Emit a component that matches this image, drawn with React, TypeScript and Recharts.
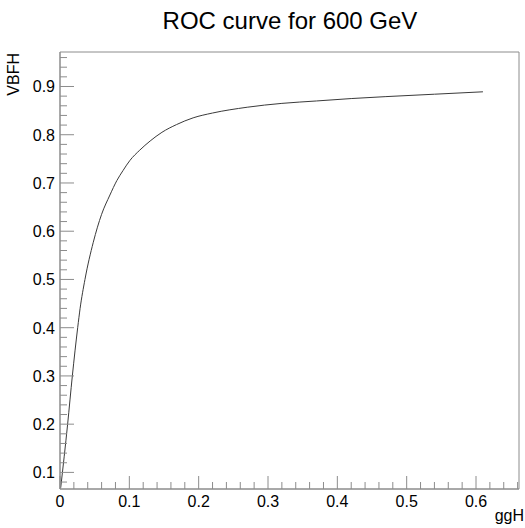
import { LineChart, Line, XAxis, YAxis, ReferenceArea } from "recharts";

// ROC curve points
const ggH = [0.001, 0.011, 0.0178, 0.0255, 0.029, 0.036, 0.048, 0.06, 0.072, 0.082, 0.091, 0.101, 0.115, 0.13, 0.147, 0.168, 0.192, 0.22, 0.27, 0.32, 0.37, 0.42, 0.47, 0.54, 0.61];
const vbfh = [0.068, 0.2, 0.3, 0.4, 0.44, 0.5, 0.577, 0.635, 0.675, 0.705, 0.726, 0.747, 0.768, 0.787, 0.805, 0.821, 0.835, 0.845, 0.857, 0.865, 0.87, 0.875, 0.879, 0.884, 0.889];

const xTicks = [0, 0.02, 0.04, 0.06, 0.08, 0.1, 0.12, 0.14, 0.16, 0.18, 0.2, 0.22, 0.24, 0.26, 0.28, 0.3, 0.32, 0.34, 0.36, 0.38, 0.4, 0.42, 0.44, 0.46, 0.48, 0.5, 0.52, 0.54, 0.56, 0.58, 0.6, 0.62, 0.64, 0.66];
const yTicks = [0.08, 0.1, 0.12, 0.14, 0.16, 0.18, 0.2, 0.22, 0.24, 0.26, 0.28, 0.3, 0.32, 0.34, 0.36, 0.38, 0.4, 0.42, 0.44, 0.46, 0.48, 0.5, 0.52, 0.54, 0.56, 0.58, 0.6, 0.62, 0.64, 0.66, 0.68, 0.7, 0.72, 0.74, 0.76, 0.78, 0.8, 0.82, 0.84, 0.86, 0.88, 0.9, 0.92, 0.94, 0.96];

const xDomain = [0, 0.662];
const yDomain = [0.0656, 0.9715];

const data = ggH.map((x, i) => ({ x, y: vbfh[i] }));

const FONT = "'Liberation Sans', Arial, Helvetica, sans-serif";
const AXIS = "#8c8c8c";

const isMajor = (v: number) => Math.abs(v * 10 - Math.round(v * 10)) < 1e-6;
const fmt = (v: number) => (v === 0 ? "0" : String(Math.round(v * 10) / 10));

const XTick = (props: any) => {
  const { x, y, payload } = props;
  const major = isMajor(payload.value);
  return (
    <g>
      <line x1={x} x2={x} y1={y} y2={y - (major ? 13 : 7)} stroke={AXIS} />
      {major && (
        <text x={x} y={y + 18} textAnchor="middle" fontSize={16} fontFamily={FONT} fill="#000">
          {fmt(payload.value)}
        </text>
      )}
    </g>
  );
};

const YTick = (props: any) => {
  const { x, y, payload } = props;
  const major = isMajor(payload.value);
  return (
    <g>
      <line x1={x} x2={x + (major ? 14 : 7)} y1={y} y2={y} stroke={AXIS} />
      {major && (
        <text x={x - 5} y={y + 6} textAnchor="end" fontSize={16} fontFamily={FONT} fill="#000">
          {fmt(payload.value)}
        </text>
      )}
    </g>
  );
};

export default function App() {
  return (
    <div style={{ position: "absolute", left: 0, top: 0, width: 525, height: 528, background: "#fff" }}>
      <LineChart
        width={525}
        height={528}
        data={data}
        margin={{ top: 52, right: 6, left: 0, bottom: 0 }}
      >
        <XAxis
          type="number"
          dataKey="x"
          domain={xDomain}
          allowDataOverflow
          ticks={xTicks}
          interval={0}
          tick={<XTick />}
          tickLine={false}
          tickSize={0}
          tickMargin={0}
          height={39}
          axisLine={{ stroke: AXIS }}
        />
        <YAxis
          type="number"
          dataKey="y"
          domain={yDomain}
          allowDataOverflow
          ticks={yTicks}
          interval={0}
          tick={<YTick />}
          tickLine={false}
          tickSize={0}
          tickMargin={0}
          width={60}
          axisLine={{ stroke: AXIS }}
        />
        <ReferenceArea x1={xDomain[0]} x2={xDomain[1]} y1={yDomain[0]} y2={yDomain[1]} fill="none" stroke={AXIS} />
        <Line
          type="monotone"
          dataKey="y"
          stroke="#3a3a3a"
          strokeWidth={1}
          dot={false}
          isAnimationActive={false}
        />
      </LineChart>
      <svg width={525} height={528} style={{ position: "absolute", left: 0, top: 0, pointerEvents: "none" }}>
        <text x={290} y={29} textAnchor="middle" fontSize={24} fontFamily={FONT} fill="#000">
          ROC curve for 600 GeV
        </text>
        <text x={524} y={521} textAnchor="end" fontSize={16} fontFamily={FONT} fill="#000">
          ggH
        </text>
        <text transform="translate(18.5,53) rotate(-90)" textAnchor="end" fontSize={16} fontFamily={FONT} fill="#000">
          VBFH
        </text>
      </svg>
    </div>
  );
}
